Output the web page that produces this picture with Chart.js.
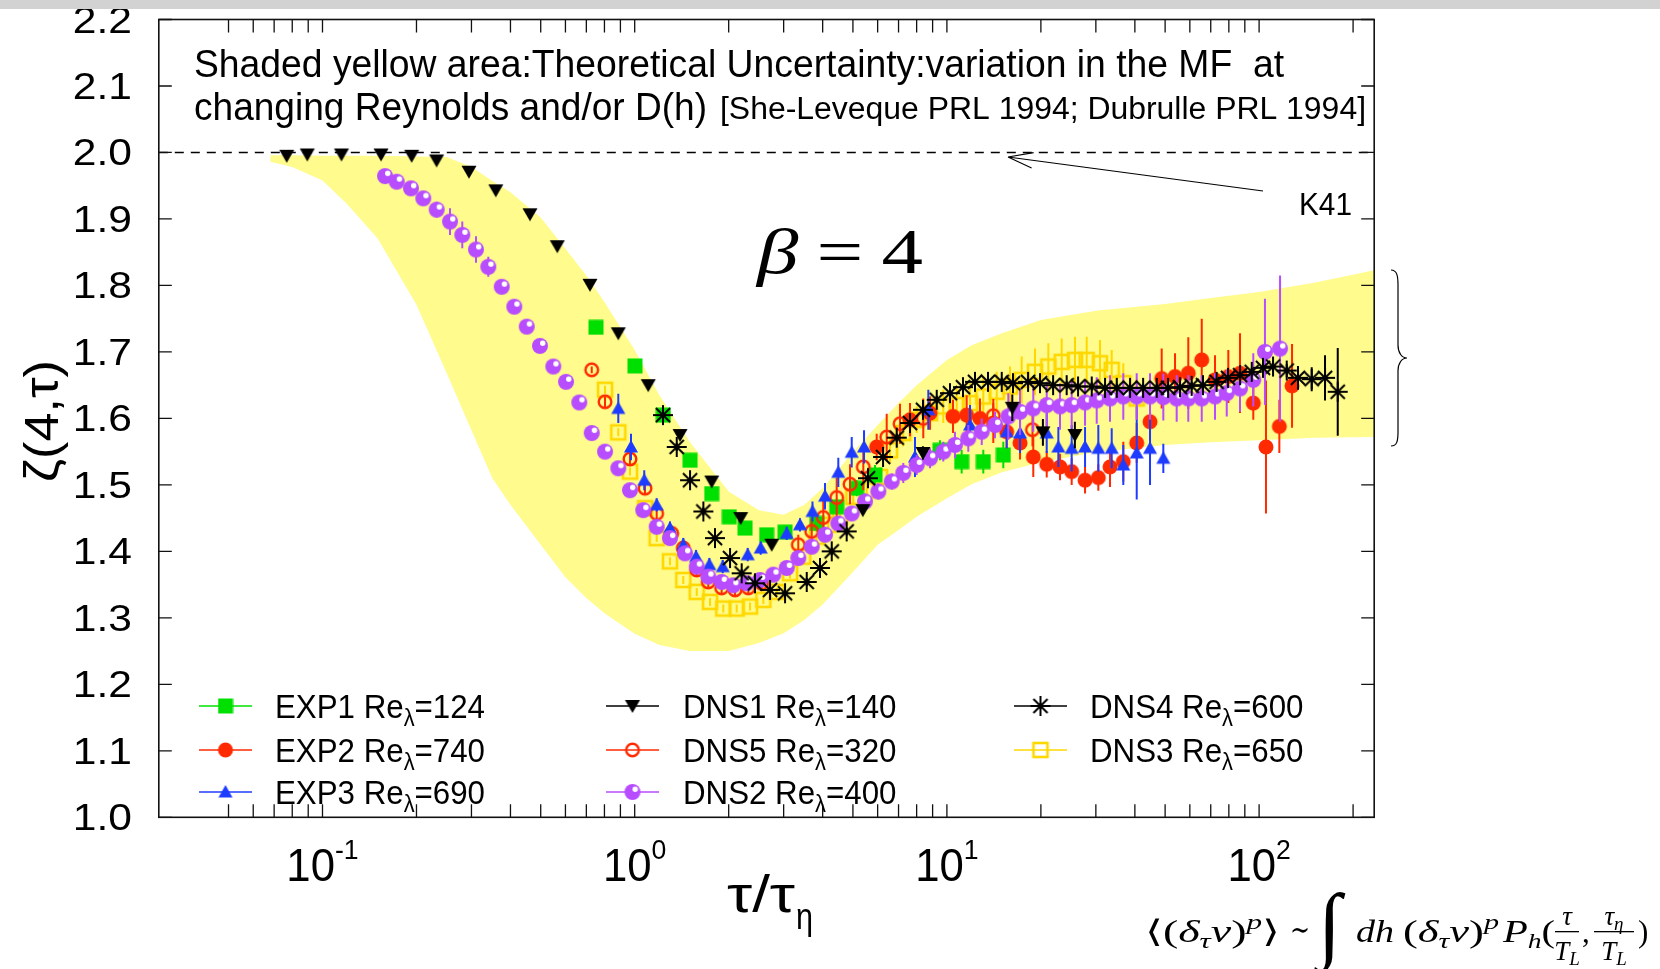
<!DOCTYPE html>
<html>
<head>
<meta charset="utf-8">
<script src="https://cdn.jsdelivr.net/npm/chart.js@4.4.1/dist/chart.umd.min.js"></script>
<style>
  html, body { margin: 0; padding: 0; background: #fff; }
  #wrap { width: 1660px; height: 969px; }
</style>
</head>
<body>
<div id="wrap"><canvas id="myChart" width="1660" height="969"></canvas></div>
<script>
// ---- data ----
const bandX = [0.068, 0.08, 0.1, 0.12, 0.15, 0.2, 0.25, 0.3, 0.35, 0.4, 0.5, 0.6, 0.7, 0.8, 1.0, 1.2, 1.5, 2, 2.5, 3, 3.5, 4, 5, 6, 7, 8, 10, 12, 15, 20, 30, 50, 70, 100, 150, 233.7];
const bandUpper = [1.996, 1.996, 1.995, 1.995, 1.995, 1.994, 1.993, 1.978, 1.957, 1.940, 1.902, 1.855, 1.815, 1.775, 1.703, 1.635, 1.565, 1.490, 1.462, 1.455, 1.470, 1.495, 1.549, 1.590, 1.623, 1.650, 1.688, 1.710, 1.728, 1.748, 1.762, 1.772, 1.781, 1.790, 1.804, 1.823];
const bandLower = [1.986, 1.978, 1.958, 1.922, 1.871, 1.771, 1.668, 1.582, 1.510, 1.470, 1.410, 1.361, 1.330, 1.307, 1.276, 1.259, 1.250, 1.250, 1.262, 1.277, 1.297, 1.320, 1.369, 1.410, 1.432, 1.452, 1.480, 1.501, 1.519, 1.534, 1.549, 1.560, 1.564, 1.567, 1.571, 1.572];

const exp1X = [0.7516, 1.002, 1.235, 1.504, 1.765, 2.009, 2.256, 2.647, 3.030, 3.828, 4.436, 5.142, 5.885, 9.504, 11.15, 13.08, 15.16];
const exp1Y = [1.737, 1.679, 1.605, 1.537, 1.487, 1.452, 1.435, 1.425, 1.429, 1.442, 1.467, 1.495, 1.515, 1.552, 1.535, 1.535, 1.545];
const exp1Err = [0.01, 0.01, 0.01, 0.01, 0.01, 0.01, 0.01, 0.01, 0.01, 0.012, 0.012, 0.012, 0.015, 0.015, 0.018, 0.018, 0.02];

const exp2X = [5.958, 7.617, 8.831, 10.46, 11.57, 12.76, 14.08, 15.54, 17.15, 18.91, 20.88, 23.03, 25.10, 27.70, 30.55, 33.30, 36.73, 40.55, 44.73, 48.75, 53.79, 59.32, 65.50, 72.24, 79.68, 86.86, 95.8, 105.2, 116.1, 127.5];
const exp2Y = [1.557, 1.598, 1.608, 1.603, 1.605, 1.600, 1.593, 1.580, 1.563, 1.542, 1.531, 1.527, 1.520, 1.507, 1.511, 1.527, 1.535, 1.563, 1.595, 1.660, 1.663, 1.668, 1.688, 1.658, 1.663, 1.668, 1.623, 1.557, 1.588, 1.649];
const exp2Err = [0.02, 0.025, 0.025, 0.025, 0.03, 0.03, 0.03, 0.025, 0.025, 0.03, 0.02, 0.02, 0.02, 0.02, 0.02, 0.03, 0.03, 0.03, 0.03, 0.045, 0.035, 0.054, 0.062, 0.037, 0.04, 0.06, 0.025, 0.1, 0.04, 0.063];

const exp3X = [0.886, 0.973, 1.073, 1.176, 1.297, 1.431, 1.572, 1.734, 1.914, 2.301, 2.533, 3.068, 3.384, 3.711, 4.070, 4.489, 4.956, 5.427, 7.903, 8.720, 11.86, 15.54, 17.15, 20.88, 22.75, 25.10, 27.70, 30.55, 33.72, 36.73, 40.55, 44.73, 49.34];
const exp3Y = [1.615, 1.557, 1.507, 1.470, 1.435, 1.410, 1.392, 1.380, 1.377, 1.395, 1.405, 1.427, 1.440, 1.460, 1.483, 1.519, 1.549, 1.557, 1.542, 1.613, 1.590, 1.580, 1.578, 1.578, 1.557, 1.555, 1.557, 1.555, 1.555, 1.530, 1.548, 1.555, 1.540];
const exp3Err = [0.022, 0.02, 0.015, 0.01, 0.01, 0.01, 0.01, 0.01, 0.01, 0.01, 0.01, 0.01, 0.01, 0.015, 0.02, 0.022, 0.023, 0.025, 0.03, 0.03, 0.03, 0.025, 0.03, 0.03, 0.03, 0.035, 0.03, 0.035, 0.03, 0.03, 0.07, 0.055, 0.022];

const dns1X = [0.0768, 0.0894, 0.115, 0.154, 0.193, 0.232, 0.2945, 0.359, 0.462, 0.565, 0.719, 0.886, 1.105, 1.397, 1.765, 2.185, 2.747, 5.38, 8.38, 16.2, 20.3, 25.7];
const dns1Y = [1.995, 1.997, 1.997, 1.997, 1.995, 1.988, 1.971, 1.943, 1.907, 1.859, 1.801, 1.728, 1.650, 1.575, 1.505, 1.450, 1.410, 1.462, 1.548, 1.616, 1.579, 1.575];
const dns1Err = [0, 0, 0, 0, 0, 0, 0, 0, 0, 0, 0, 0, 0, 0, 0, 0, 0, 0, 0.01, 0.02, 0.02, 0.02];

const dns5X = [0.7284, 0.8034, 0.9658, 1.079, 1.176, 1.314, 1.431, 1.580, 1.721, 1.899, 2.096, 2.312, 2.551, 3.342, 3.690, 4.019, 4.436, 4.894, 5.398, 6.415, 7.077, 8.401, 14.08, 18.80];
const dns5Y = [1.673, 1.625, 1.539, 1.495, 1.457, 1.427, 1.405, 1.372, 1.354, 1.345, 1.342, 1.345, 1.352, 1.410, 1.430, 1.451, 1.481, 1.501, 1.527, 1.572, 1.592, 1.600, 1.604, 1.583];
const dns5Err = [0.005, 0.008, 0.01, 0.01, 0.01, 0.01, 0.008, 0.008, 0.008, 0.008, 0.008, 0.008, 0.01, 0.015, 0.02, 0.025, 0.03, 0.03, 0.035, 0.035, 0.03, 0.03, 0.025, 0.025];

const dns2X = [0.1586, 0.1729, 0.1920, 0.2103, 0.2321, 0.2561, 0.2804, 0.3102, 0.3397, 0.3750, 0.4115, 0.4510, 0.4972, 0.5486, 0.6025, 0.6645, 0.7284, 0.8034, 0.8860, 0.9658, 1.065, 1.176, 1.297, 1.449, 1.580, 1.721, 1.899, 2.069, 2.284, 2.519, 2.780, 3.068, 3.342, 3.689, 4.070, 4.489, 4.956, 5.467, 6.030, 6.657, 7.250, 8.004, 8.831, 9.739, 10.61, 11.71, 12.93, 14.26, 15.73, 17.15, 18.91, 20.88, 23.03, 25.10, 27.70, 30.19, 33.30, 36.73, 40.55, 44.73, 49.34, 54.45, 59.32, 65.50, 72.24, 78.77, 86.86, 95.8, 104.4, 116.7];
const dns2Y = [1.9645, 1.956, 1.946, 1.931, 1.914, 1.896, 1.876, 1.854, 1.828, 1.798, 1.768, 1.738, 1.709, 1.678, 1.655, 1.624, 1.578, 1.550, 1.525, 1.492, 1.462, 1.437, 1.420, 1.397, 1.377, 1.362, 1.354, 1.349, 1.352, 1.357, 1.365, 1.375, 1.390, 1.407, 1.425, 1.442, 1.457, 1.475, 1.490, 1.505, 1.518, 1.530, 1.540, 1.550, 1.560, 1.570, 1.580, 1.590, 1.603, 1.610, 1.615, 1.620, 1.618, 1.620, 1.624, 1.627, 1.630, 1.633, 1.633, 1.633, 1.632, 1.630, 1.630, 1.630, 1.633, 1.638, 1.645, 1.658, 1.700, 1.705];
const dns2Err = [0.005, 0.006, 0.008, 0.01, 0.012, 0.02, 0.02, 0.02, 0.015, 0.008, 0.006, 0.006, 0.006, 0.006, 0.006, 0.006, 0.006, 0.006, 0.006, 0.006, 0.006, 0.006, 0.006, 0.006, 0.006, 0.006, 0.006, 0.006, 0.006, 0.006, 0.006, 0.008, 0.008, 0.008, 0.01, 0.01, 0.01, 0.012, 0.012, 0.012, 0.015, 0.015, 0.015, 0.015, 0.02, 0.02, 0.02, 0.02, 0.035, 0.035, 0.035, 0.035, 0.035, 0.035, 0.035, 0.035, 0.035, 0.035, 0.035, 0.035, 0.035, 0.035, 0.035, 0.035, 0.035, 0.035, 0.035, 0.04, 0.08, 0.11];

const dns4X = [1.232, 1.363, 1.504, 1.659, 1.808, 2.020, 2.201, 2.428, 2.713, 3.030, 3.556, 3.922, 4.276, 4.775, 5.588, 6.243, 6.906, 7.617, 8.381, 9.275, 10.23, 11.26, 12.30, 13.54, 14.98, 16.28, 18.19, 19.87, 21.88, 24.19, 26.30, 29.10, 32.10, 35.00, 38.60, 42.50, 47.00, 51.10, 55.80, 60.80, 66.10, 73.10, 79.50, 86.90, 94.70, 102.9, 110.8, 122.6, 133.2, 147.4, 162.6, 178.6];
const dns4Y = [1.605, 1.557, 1.507, 1.460, 1.420, 1.390, 1.367, 1.352, 1.342, 1.337, 1.354, 1.375, 1.400, 1.430, 1.510, 1.542, 1.571, 1.593, 1.613, 1.628, 1.638, 1.647, 1.655, 1.655, 1.655, 1.653, 1.655, 1.653, 1.650, 1.650, 1.648, 1.648, 1.646, 1.646, 1.646, 1.646, 1.646, 1.646, 1.647, 1.649, 1.650, 1.655, 1.661, 1.665, 1.670, 1.676, 1.678, 1.672, 1.661, 1.659, 1.661, 1.640];
const dns4Err = [0.006, 0.006, 0.006, 0.006, 0.006, 0.006, 0.006, 0.006, 0.006, 0.006, 0.006, 0.006, 0.006, 0.006, 0.006, 0.006, 0.006, 0.006, 0.006, 0.006, 0.006, 0.006, 0.006, 0.006, 0.006, 0.006, 0.006, 0.006, 0.006, 0.006, 0.006, 0.006, 0.006, 0.006, 0.006, 0.006, 0.006, 0.006, 0.006, 0.006, 0.006, 0.006, 0.006, 0.006, 0.006, 0.008, 0.008, 0.01, 0.018, 0.018, 0.034, 0.066];

const dns3X = [0.8034, 0.886, 0.9658, 1.079, 1.176, 1.297, 1.431, 1.580, 1.743, 1.922, 2.122, 2.341, 2.582, 2.850, 3.144, 3.467, 3.828, 4.171, 4.546, 5.014, 5.535, 6.107, 6.574, 7.251, 8.004, 8.831, 9.739, 10.75, 11.86, 13.08, 14.44, 15.93, 17.36, 19.15, 21.13, 23.32, 25.72, 28.04, 30.93, 33.72, 36.73, 40.55];
const dns3Y = [1.643, 1.579, 1.520, 1.465, 1.420, 1.385, 1.357, 1.339, 1.324, 1.314, 1.314, 1.317, 1.327, 1.339, 1.367, 1.392, 1.422, 1.440, 1.452, 1.482, 1.492, 1.512, 1.552, 1.578, 1.598, 1.608, 1.618, 1.620, 1.623, 1.633, 1.640, 1.648, 1.658, 1.670, 1.678, 1.685, 1.688, 1.688, 1.683, 1.673, 1.653, 1.630];
const dns3Err = [0.006, 0.006, 0.006, 0.006, 0.006, 0.006, 0.006, 0.006, 0.006, 0.006, 0.006, 0.006, 0.006, 0.006, 0.008, 0.008, 0.01, 0.01, 0.012, 0.012, 0.015, 0.015, 0.02, 0.02, 0.02, 0.025, 0.025, 0.025, 0.03, 0.03, 0.03, 0.03, 0.035, 0.035, 0.035, 0.035, 0.035, 0.035, 0.035, 0.03, 0.03, 0.03];

const yTicks = [1.0, 1.1, 1.2, 1.3, 1.4, 1.5, 1.6, 1.7, 1.8, 1.9, 2.0, 2.1, 2.2];
const yTickLabels = ["1.0", "1.1", "1.2", "1.3", "1.4", "1.5", "1.6", "1.7", "1.8", "1.9", "2.0", "2.1", "2.2"];
const xTicks = [0.05, 0.06, 0.07, 0.08, 0.09, 0.1, 0.2, 0.3, 0.4, 0.5, 0.6, 0.7, 0.8, 0.9, 1, 2, 3, 4, 5, 6, 7, 8, 9, 10, 20, 30, 40, 50, 60, 70, 80, 90, 100, 200];
const xLabelTicks = [0.1, 1, 10, 100];
const xLabelExp = ["-1", "0", "1", "2"];

// ---- colours and markers ----
const GREEN = "#00e000", RED = "#ff2a00", BLUE = "#1e3cff", VIOLET = "#b84cff", YELLOW = "#ffd800", BAND = "#fffb8c";
const SANS = '"Liberation Sans", Arial, sans-serif';
const SERIF = '"Liberation Serif", "DejaVu Serif", serif';

function mk(size, fn) {
  const c = document.createElement("canvas");
  c.width = size; c.height = size;
  fn(c.getContext("2d"), size / 2);
  return c;
}
const mGreen = mk(16, (g, c) => { g.fillStyle = GREEN; g.fillRect(c - 7.5, c - 7.5, 15, 15); });
const mRedDot = mk(18, (g, c) => { g.fillStyle = RED; g.beginPath(); g.arc(c, c, 7.5, 0, Math.PI * 2); g.fill(); });
const mBlueTri = mk(18, (g, c) => { g.fillStyle = BLUE; g.beginPath(); g.moveTo(c, c - 7); g.lineTo(c + 7, c + 5.5); g.lineTo(c - 7, c + 5.5); g.closePath(); g.fill(); });
const mBlackTri = mk(18, (g, c) => { g.fillStyle = "#000"; g.beginPath(); g.moveTo(c - 7.5, c - 6); g.lineTo(c + 7.5, c - 6); g.lineTo(c, c + 7); g.closePath(); g.fill(); });
const mRing = mk(18, (g, c) => { g.strokeStyle = RED; g.lineWidth = 2.4; g.beginPath(); g.arc(c, c, 6.3, 0, Math.PI * 2); g.stroke(); });
const mBall = mk(20, (g, c) => {
  g.fillStyle = VIOLET; g.beginPath(); g.arc(c, c, 8, 0, Math.PI * 2); g.fill();
  g.fillStyle = "#fff"; g.beginPath(); g.arc(c + 2.7, c - 2.7, 2.7, 0, Math.PI * 2); g.fill();
});
const mStar = mk(24, (g, c) => {
  g.strokeStyle = "#000"; g.lineWidth = 2; g.beginPath();
  for (let k = 0; k < 4; k++) {
    const a = k * Math.PI / 4;
    g.moveTo(c - 10 * Math.cos(a), c - 10 * Math.sin(a));
    g.lineTo(c + 10 * Math.cos(a), c + 10 * Math.sin(a));
  }
  g.stroke();
});
const mBox = mk(20, (g, c) => { g.strokeStyle = YELLOW; g.lineWidth = 2.6; g.strokeRect(c - 7, c - 7, 14, 14); });

const series = [
  { name: "EXP1", re: "124", x: exp1X, y: exp1Y, err: exp1Err, color: GREEN, marker: mGreen, col: 0, row: 0, order: 7 },
  { name: "EXP2", re: "740", x: exp2X, y: exp2Y, err: exp2Err, color: RED, marker: mRedDot, col: 0, row: 1, order: 6 },
  { name: "EXP3", re: "690", x: exp3X, y: exp3Y, err: exp3Err, color: BLUE, marker: mBlueTri, col: 0, row: 2, order: 4 },
  { name: "DNS1", re: "140", x: dns1X, y: dns1Y, err: dns1Err, color: "#000", marker: mBlackTri, col: 1, row: 0, order: 2 },
  { name: "DNS5", re: "320", x: dns5X, y: dns5Y, err: dns5Err, color: RED, marker: mRing, col: 1, row: 1, order: 5 },
  { name: "DNS2", re: "400", x: dns2X, y: dns2Y, err: dns2Err, color: VIOLET, marker: mBall, col: 1, row: 2, order: 3 },
  { name: "DNS4", re: "600", x: dns4X, y: dns4Y, err: dns4Err, color: "#000", marker: mStar, col: 2, row: 0, order: 1 },
  { name: "DNS3", re: "650", x: dns3X, y: dns3Y, err: dns3Err, color: YELLOW, marker: mBox, col: 2, row: 1, order: 8 },
];

function pts(xs, ys) { return xs.map((x, i) => ({ x: x, y: ys[i] })); }

// ---- text helpers ----
function runWidth(ctx, segs) {
  let w = 0;
  segs.forEach((s) => { ctx.font = s.font; w += ctx.measureText(s.t).width + (s.gap || 0); });
  return w;
}
function drawRun(ctx, segs, x, y, sx) {
  ctx.save();
  ctx.translate(x, y); ctx.scale(sx, 1);
  ctx.textAlign = "left"; ctx.textBaseline = "alphabetic";
  let cx = 0;
  segs.forEach((s) => {
    ctx.font = s.font;
    ctx.fillText(s.t, cx, s.dy || 0);
    cx += ctx.measureText(s.t).width + (s.gap || 0);
  });
  ctx.restore();
  return cx * sx;
}
function fitRun(ctx, segs, x, y, targetW, align) {
  const w = runWidth(ctx, segs);
  const sx = targetW / w;
  let x0 = x;
  if (align === "center") x0 = x - targetW / 2;
  if (align === "right") x0 = x - targetW;
  drawRun(ctx, segs, x0, y, sx);
  return sx;
}

// ---- plugins ----
const errorBars = {
  id: "errorBars",
  beforeDatasetDraw(chart, args) {
    const ds = chart.data.datasets[args.index];
    if (!ds.err) return;
    const ys = chart.scales.y, ctx = chart.ctx;
    ctx.save();
    ctx.strokeStyle = ds.errColor; ctx.lineWidth = 2;
    ctx.beginPath();
    args.meta.data.forEach((pt, i) => {
      const e = ds.err[i];
      if (!e) return;
      const v = ds.data[i].y;
      ctx.moveTo(pt.x, ys.getPixelForValue(v + e));
      ctx.lineTo(pt.x, ys.getPixelForValue(v - e));
    });
    ctx.stroke();
    ctx.restore();
  },
  afterDatasetDraw(chart, args) {
    if (args.index !== 0) return;
    // K41 level, dashed, drawn right over the shaded band
    const ctx = chart.ctx, a = chart.chartArea;
    const py = chart.scales.y.getPixelForValue(2.0);
    ctx.save();
    ctx.strokeStyle = "#000"; ctx.lineWidth = 1.4; ctx.setLineDash([9, 7]);
    ctx.beginPath(); ctx.moveTo(a.left, py); ctx.lineTo(a.right, py); ctx.stroke();
    ctx.restore();
  },
};

const decor = {
  id: "decor",
  beforeDraw(chart) {
    const ctx = chart.ctx;
    ctx.save(); ctx.fillStyle = "#fff"; ctx.fillRect(0, 0, chart.width, chart.height); ctx.restore();
  },
  afterDraw(chart) {
    const ctx = chart.ctx;
    const { left, right, top, bottom } = chart.chartArea;
    const xs = chart.scales.x, ys = chart.scales.y;
    ctx.save();
    ctx.fillStyle = "#000";

    // frame and ticks
    ctx.strokeStyle = "#111"; ctx.lineWidth = 1.6;
    ctx.strokeRect(left, top, right - left, bottom - top);
    ctx.lineWidth = 1.3;
    ctx.beginPath();
    xTicks.forEach((v) => {
      const px = xs.getPixelForValue(v);
      ctx.moveTo(px, bottom); ctx.lineTo(px, bottom - 13);
      ctx.moveTo(px, top); ctx.lineTo(px, top + 13);
    });
    yTicks.forEach((v) => {
      const py = ys.getPixelForValue(v);
      ctx.moveTo(left, py); ctx.lineTo(left + 13, py);
      ctx.moveTo(right, py); ctx.lineTo(right - 13, py);
    });
    ctx.stroke();

    // tick labels
    yTicks.forEach((v, i) => {
      const py = ys.getPixelForValue(v);
      const segs = [{ t: yTickLabels[i], font: "37px " + SANS }];
      const w = runWidth(ctx, segs) * 1.15;
      drawRun(ctx, segs, 132 - w, py + 13, 1.15);
    });
    xLabelTicks.forEach((v, i) => {
      const px = xs.getPixelForValue(v);
      const segs = [{ t: "10", font: "46px " + SANS }, { t: xLabelExp[i], font: "28px " + SANS, dy: -22 }];
      const w = runWidth(ctx, segs) * 0.95;
      drawRun(ctx, segs, px - w / 2, 881, 0.95);
    });

    // axis titles
    const tw = fitRun(ctx, [{ t: "τ/τ", font: "52px " + SANS }], 727, 912, 68, "left");
    drawRun(ctx, [{ t: "η", font: "36px " + SANS }], 796, 929, 0.85);
    ctx.save();
    ctx.translate(58, 421); ctx.rotate(-Math.PI / 2);
    fitRun(ctx, [{ t: "ζ(4,τ)", font: "48px " + SANS }], 0, 0, 122, "center");
    ctx.restore();

    // annotation text
    fitRun(ctx, [{ t: "Shaded yellow area:Theoretical Uncertainty:variation in the MF  at", font: "38px " + SANS }], 194, 77, 1090, "left");
    fitRun(ctx, [{ t: "changing Reynolds and/or D(h)", font: "38px " + SANS }], 194, 120, 513, "left");
    fitRun(ctx, [{ t: "[She-Leveque PRL 1994; Dubrulle PRL 1994]", font: "31px " + SANS }], 720, 119, 646, "left");
    fitRun(ctx, [{ t: "K41", font: "32px " + SANS }], 1299, 215, 53, "left");

    // arrow to the K41 line
    ctx.strokeStyle = "#000"; ctx.lineWidth = 1.1;
    const tip = [1008, 157], tail = [1263, 191];
    ctx.beginPath(); ctx.moveTo(tail[0], tail[1]); ctx.lineTo(tip[0], tip[1]);
    const ang = Math.atan2(tail[1] - tip[1], tail[0] - tip[0]);
    [0.3, -0.3].forEach((d) => {
      ctx.moveTo(tip[0], tip[1]);
      ctx.lineTo(tip[0] + 26 * Math.cos(ang + d), tip[1] + 26 * Math.sin(ang + d));
    });
    ctx.stroke();

    // beta = 4
    fitRun(ctx, [{ t: "β", font: "italic 64px " + SERIF, gap: 14 }, { t: "=", font: "64px " + SERIF, gap: 14 }, { t: "4", font: "64px " + SERIF }], 757, 273, 166, "left");

    // brace at the right
    ctx.lineWidth = 1.2;
    ctx.beginPath();
    ctx.moveTo(1391, 270);
    ctx.bezierCurveTo(1397, 270, 1398, 276, 1398, 285);
    ctx.lineTo(1398, 345);
    ctx.bezierCurveTo(1398, 353, 1402, 358, 1407, 358);
    ctx.bezierCurveTo(1402, 358, 1398, 363, 1398, 371);
    ctx.lineTo(1398, 432);
    ctx.bezierCurveTo(1398, 441, 1397, 446, 1391, 446);
    ctx.stroke();

    // formula at bottom right
    const fi = "italic 31px " + SERIF, fn = "31px " + SERIF, fs = "italic 21px " + SERIF;
    const fi2 = "italic 27px " + SERIF, fs2 = "italic 19px " + SERIF;
    fitRun(ctx, [{ t: "⟨(", font: fn }, { t: "δ", font: fi }, { t: "τ", font: fs, dy: 6 }, { t: "v", font: fi }, { t: ")", font: fn }, { t: "p", font: fs, dy: -13 }, { t: "⟩", font: fn }], 1145, 942, 135, "left");
    fitRun(ctx, [{ t: "∼", font: fn }], 1290, 940, 20, "left");
    drawRun(ctx, [{ t: "∫", font: "84px " + SERIF }], 1318, 952, 1);
    fitRun(ctx, [{ t: "dh", font: fi }], 1356, 942, 38, "left");
    fitRun(ctx, [{ t: "(", font: fn }, { t: "δ", font: fi }, { t: "τ", font: fs, dy: 6 }, { t: "v", font: fi }, { t: ")", font: fn }, { t: "p", font: fs, dy: -13 }], 1403, 942, 96, "left");
    fitRun(ctx, [{ t: "P", font: fi }, { t: "h", font: fs, dy: 6 }, { t: "(", font: fn }], 1503, 942, 52, "left");
    const fracs = [[1567, 24, [{ t: "τ", font: fi2 }]], [1614, 40, [{ t: "τ", font: fi2 }, { t: "η", font: fs2, dy: 5 }]]];
    fracs.forEach(([cx, bw, num]) => {
      const nw = runWidth(ctx, num);
      drawRun(ctx, num, cx - nw / 2, 925, 1);
      const den = [{ t: "T", font: fi2 }, { t: "L", font: fs2, dy: 5 }];
      const dw = runWidth(ctx, den);
      drawRun(ctx, den, cx - dw / 2, 960, 1);
      ctx.fillRect(cx - bw / 2, 931, bw, 1.3);
    });
    drawRun(ctx, [{ t: ",", font: fn }], 1582, 942, 1);
    drawRun(ctx, [{ t: ")", font: fn }], 1638, 942, 1);

    // legend
    const lineX = [199, 606, 1014], textX = [275, 683, 1090], rowY = [706, 750, 792];
    const lf = "33px " + SANS, lsub = "23px " + SANS;
    const legSegs = (s) => [{ t: s.name + " Re", font: lf }, { t: "λ", font: lsub, dy: 8 }, { t: "=" + s.re, font: lf }];
    const lsx = 210 / runWidth(ctx, legSegs(series[0]));
    series.forEach((s) => {
      const x0 = lineX[s.col], cy = rowY[s.row];
      ctx.strokeStyle = s.color; ctx.lineWidth = 1.6;
      ctx.beginPath(); ctx.moveTo(x0, cy); ctx.lineTo(x0 + 53, cy); ctx.stroke();
      ctx.drawImage(s.marker, x0 + 26.5 - s.marker.width / 2, cy - s.marker.height / 2);
      ctx.fillStyle = "#000";
      drawRun(ctx, legSegs(s), textX[s.col], cy + 12, lsx);
    });

    // grey strip at the very top of the picture
    ctx.fillStyle = "#d2d2d2";
    ctx.fillRect(0, 0, chart.width, 9);
    ctx.restore();
  },
};

// ---- chart ----
const datasets = [
  { label: "band", data: pts(bandX, bandUpper), fill: "+1", backgroundColor: BAND, borderColor: "rgba(0,0,0,0)", borderWidth: 0, pointRadius: 0, showLine: true, tension: 0, order: 20 },
  { label: "bandLow", data: pts(bandX, bandLower), fill: false, borderColor: "rgba(0,0,0,0)", borderWidth: 0, pointRadius: 0, showLine: true, tension: 0, order: 21 },
];
series.forEach((s) => {
  datasets.push({
    label: s.name, data: pts(s.x, s.y), err: s.err, errColor: s.color,
    showLine: false, pointStyle: s.marker, pointRadius: 7, order: s.order,
  });
});

const ctx = document.getElementById("myChart");
new Chart(ctx, {
  type: "line",
  data: { datasets: datasets },
  options: {
    responsive: false,
    animation: false,
    devicePixelRatio: 1,
    events: [],
    layout: { padding: { left: 158.8, right: 285.8, top: 19.5, bottom: 151.7 } },
    scales: {
      x: { type: "logarithmic", min: 0.0299, max: 233.7, display: false },
      y: { type: "linear", min: 1.0, max: 2.2, display: false },
    },
    plugins: { legend: { display: false }, tooltip: { enabled: false } },
  },
  plugins: [errorBars, decor],
});
</script>
</body>
</html>
